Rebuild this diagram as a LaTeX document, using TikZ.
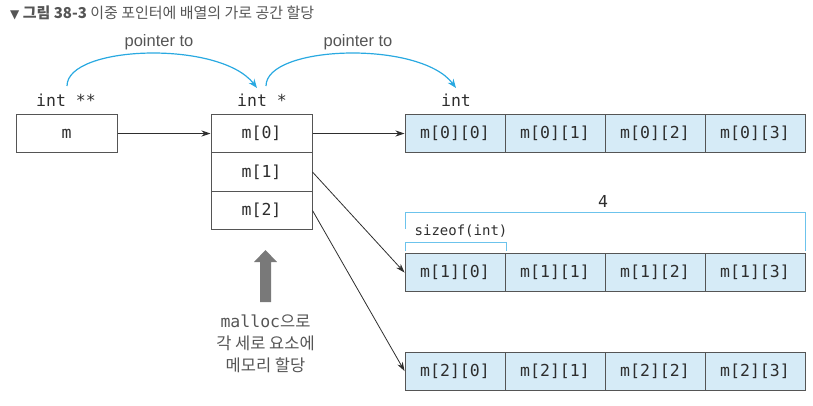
\documentclass[tikz,border=0pt]{standalone}
\usepackage{fontspec}
\setmainfont{Liberation Sans}
\newfontfamily\krfont{Noto Sans CJK KR}
\newfontfamily\monofont{DejaVu Sans Mono}
\newfontfamily\symfont{DejaVu Sans}
\usetikzlibrary{arrows.meta}
\definecolor{cellfill}{HTML}{D6EBF7}
\definecolor{boxline}{HTML}{555555}
\definecolor{txt}{HTML}{2E2E2E}
\definecolor{arcblue}{HTML}{29A9E1}
\definecolor{dimblue}{HTML}{6CC3EC}
\definecolor{titlegray}{HTML}{555555}
\begin{document}
\begin{tikzpicture}[x=1pt,y=-1pt,
  every node/.style={text=txt, inner sep=0pt},
  ptrbox/.style={draw=boxline, line width=1pt, fill=white, minimum width=101, minimum height=38.5, font=\monofont\fontsize{16.5}{18}\selectfont},
  cellbox/.style={draw=boxline, line width=1pt, fill=cellfill, minimum width=100, minimum height=38, font=\monofont\fontsize{16.5}{18}\selectfont},
  typelabel/.style={font=\monofont\fontsize{16.5}{18}\selectfont},
  ptrarrow/.style={draw=txt, line width=0.8pt, -{Stealth[length=9pt,width=6pt]}},
  bluearc/.style={draw=arcblue, line width=1.2pt, -{Stealth[length=9pt,width=7pt]}},
  dimline/.style={draw=dimblue, line width=0.9pt},
  arclabel/.style={font=\fontsize{16.5}{18}\selectfont, text=titlegray}
]
\useasboundingbox (0,0) rectangle (813,405);

% title
\node[anchor=west, text=titlegray, font=\krfont\fontsize{15}{17}\selectfont] (title) at (10,13)
  {{\symfont\fontsize{12}{13}\selectfont ▼} \textbf{그림 38-3} 이중 포인터에 배열의 가로 공간 할당};

% type labels
\node[typelabel] (tpp) at (66,100) {int **};
\node[typelabel] (tp) at (262,100) {int *};
\node[typelabel] (ti) at (456,100) {int};

% pointer boxes
\node[ptrbox] (m) at (66.5,133.5) {m};
\node[ptrbox] (p0) at (261.5,133.5) {m[0]};
\node[ptrbox] (p1) at (261.5,172) {m[1]};
\node[ptrbox] (p2) at (261.5,210.5) {m[2]};

% array rows
\foreach \r/\y in {0/133.5, 1/272.5, 2/371}{
  \foreach \c in {0,1,2,3}{
    \node[cellbox] (c\r\c) at ({455+100*\c},\y) {m[\r][\c]};
  }
}

% arrows
\draw[ptrarrow] (m.east) -- (p0.west);
\draw[ptrarrow] (p0.east) -- (c00.west);
\draw[ptrarrow] (p1.east) -- (c10.west);
\draw[ptrarrow] (p2.east) -- (c20.west);

% blue arcs
\coordinate (a1s) at (67,86);
\coordinate (a1e) at (257,88);
\coordinate (a2s) at (266,86);
\coordinate (a2e) at (456,88);
\draw[bluearc] (a1s) .. controls (67,45) and (220,40) .. (a1e);
\draw[bluearc] (a2s) .. controls (266,45) and (420,40) .. (a2e);
\node[arclabel] (pt1) at (159,42) {pointer to};
\node[arclabel] (pt2) at (358,42) {pointer to};

% dimension brackets
\draw[dimline] (405,229) -- (405,212.5) -- (805,212.5) -- (805,251);
\node[typelabel] (four) at (603,201) {4};
\draw[dimline] (405,251) -- (405,242.5) -- (506,242.5) -- (506,251);
\node[font=\monofont\fontsize{14}{16}\selectfont] (szl) at (461,231) {sizeof(int)};

% gray up arrow
\fill[gray!95!black] (260,302) -- (260,262) -- (254,262) -- (265.5,250) -- (277,262) -- (271,262) -- (271,302) -- cycle;
\node[align=center, font=\krfont\fontsize{16.5}{22}\selectfont, text=titlegray] (note) at (265.5,344)
  {{\monofont malloc}으로\\각 세로 요소에\\메모리 할당};
\end{tikzpicture}
\end{document}
